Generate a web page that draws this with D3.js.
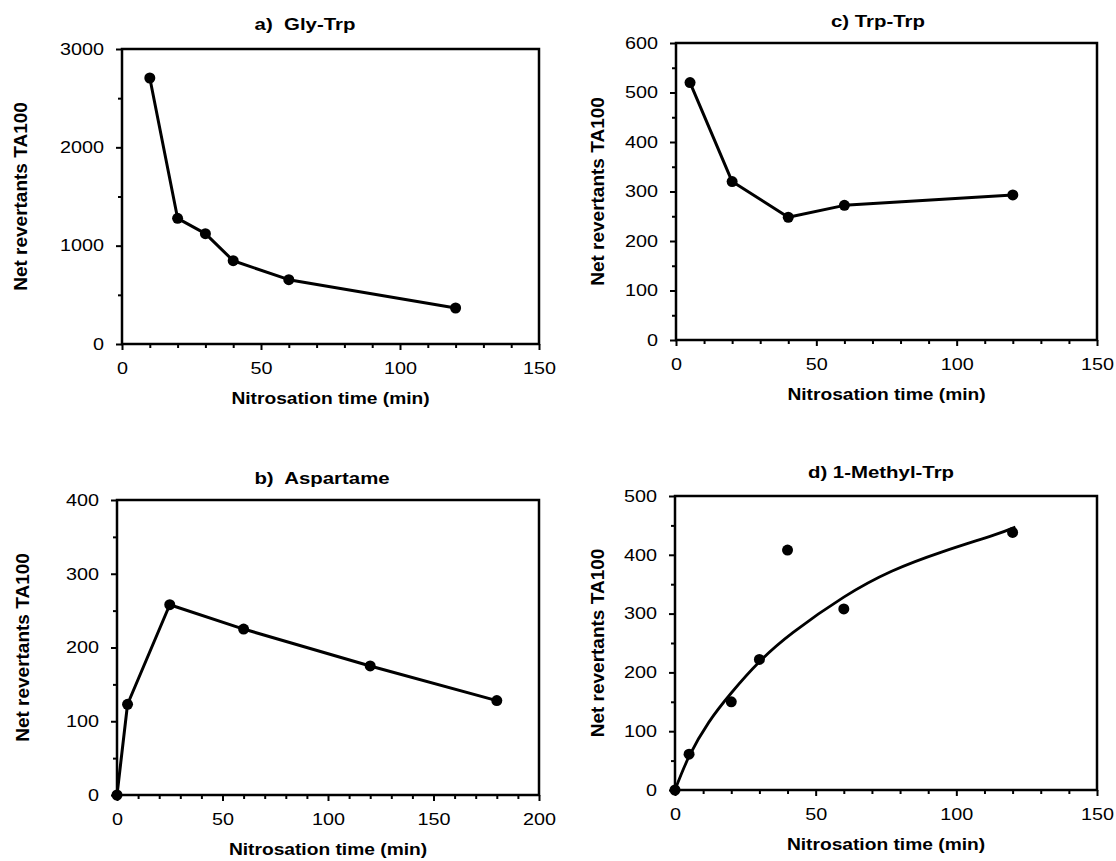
<!DOCTYPE html>
<html>
<head>
<meta charset="utf-8">
<script src="https://cdnjs.cloudflare.com/ajax/libs/d3/7.8.5/d3.min.js"></script>
<style>
body { margin: 0; background: #fff; }
text { font-family: "Liberation Sans", Arial, Helvetica, sans-serif; fill: #000; }
</style>
</head>
<body>
<svg id="chart" width="1116" height="861"></svg>
<script>
// a) Gly-Trp
var glyTrpTime = [10, 20, 30, 40, 60, 120];
var glyTrpRev = [2705, 1278, 1122, 847, 654, 366];

// b) Aspartame
var aspTime = [0, 5, 25, 60, 120, 180];
var aspRev = [0, 123, 258, 225, 175, 128];

// c) Trp-Trp
var trpTime = [5, 20, 40, 60, 120];
var trpRev = [520, 320, 248, 272, 293];

// d) 1-Methyl-Trp, points and the fitted curve
var metTime = [0, 5, 20, 30, 40, 60, 120];
var metRev = [0, 61, 150, 222, 408, 308, 438];
var metFitTime = [0, 5, 12, 20, 30, 42, 60, 77, 95, 113, 121];
var metFitRev = [0, 57, 115, 165, 218, 268, 328, 372, 405, 433, 447];

var xLabel = "Nitrosation time (min)";
var yLabel = "Net revertants TA100";

var SX = 1.2; // the scan is a little wider than tall

var panels = [
	{title: "a)  Gly-Trp", time: glyTrpTime, rev: glyTrpRev, xMax: 150, yMax: 3000, yMajor: 1000, yMinor: 500,
	 box: [122, 49, 539, 344], titleX: 305, titleY: 30, labelX: 20},
	{title: "c) Trp-Trp", time: trpTime, rev: trpRev, xMax: 150, yMax: 600, yMajor: 100, yMinor: 50,
	 box: [676, 43, 1097, 340], titleX: 878, titleY: 27, labelX: 597},
	{title: "b)  Aspartame", time: aspTime, rev: aspRev, xMax: 200, yMax: 400, yMajor: 100, yMinor: 50,
	 box: [117, 500, 539, 795], titleX: 322, titleY: 484, labelX: 22},
	{title: "d) 1-Methyl-Trp", time: metTime, rev: metRev, xMax: 150, yMax: 500, yMajor: 100, yMinor: 50,
	 box: [675, 496, 1097, 790], titleX: 881, titleY: 478, labelX: 597,
	 fitTime: metFitTime, fitRev: metFitRev}
];

var svg = d3.select("#chart");
svg.append("rect").attr("width", 1116).attr("height", 861).attr("fill", "#fff");

panels.forEach(drawPanel);

function drawPanel(p) {
	var x0 = p.box[0], y0 = p.box[1], x1 = p.box[2], y1 = p.box[3];
	var x = d3.scaleLinear().domain([0, p.xMax]).range([x0, x1]);
	var y = d3.scaleLinear().domain([0, p.yMax]).range([y1, y0]);
	var g = svg.append("g");

	var xMajor = d3.range(0, p.xMax + 1, 50);
	var xMinor = d3.range(0, p.xMax + 1, 10).filter(function(v) { return v % 50 != 0; });
	var yMajor = d3.range(0, p.yMax + 1, p.yMajor);
	var yMinor = d3.range(0, p.yMax + 1, p.yMinor).filter(function(v) { return v % p.yMajor != 0; });

	// minor ticks
	g.append("g").attr("transform", "translate(0," + y1 + ")")
		.call(d3.axisBottom(x).tickValues(xMinor).tickSize(4).tickFormat(""))
		.call(cleanAxis);
	g.append("g").attr("transform", "translate(" + x0 + ",0)")
		.call(d3.axisLeft(y).tickValues(yMinor).tickSize(4).tickFormat(""))
		.call(cleanAxis);

	// major ticks with labels
	var xa = g.append("g").attr("transform", "translate(0," + y1 + ")")
		.call(d3.axisBottom(x).tickValues(xMajor).tickSize(6).tickPadding(12).tickFormat(d3.format("d")))
		.call(cleanAxis);
	xa.selectAll("text").attr("transform", "scale(" + SX + ",1)");

	var ya = g.append("g").attr("transform", "translate(" + x0 + ",0)")
		.call(d3.axisLeft(y).tickValues(yMajor).tickSize(6).tickPadding(9).tickFormat(d3.format("d")))
		.call(cleanAxis);
	ya.selectAll("text").attr("transform", "scale(" + SX + ",1)");

	// frame
	g.append("rect")
		.attr("x", x0).attr("y", y0)
		.attr("width", x1 - x0).attr("height", y1 - y0)
		.attr("fill", "none").attr("stroke", "#000").attr("stroke-width", 2.5);

	var pts = p.time.map(function(t, i) { return [t, p.rev[i]]; });
	var line = d3.line().x(function(d) { return x(d[0]); }).y(function(d) { return y(d[1]); });

	if (p.fitTime) {
		var fit = p.fitTime.map(function(t, i) { return [t, p.fitRev[i]]; });
		g.append("path").datum(fit)
			.attr("d", line.curve(d3.curveNatural))
			.attr("fill", "none").attr("stroke", "#000").attr("stroke-width", 2.8);
	} else {
		g.append("path").datum(pts)
			.attr("d", line)
			.attr("fill", "none").attr("stroke", "#000").attr("stroke-width", 3)
			.attr("stroke-linejoin", "round");
	}

	g.selectAll("circle.pt").data(pts).join("circle")
		.attr("class", "pt")
		.attr("cx", function(d) { return x(d[0]); })
		.attr("cy", function(d) { return y(d[1]); })
		.attr("r", 5.5)
		.attr("fill", "#000");

	// titles
	g.append("text")
		.attr("transform", "translate(" + p.titleX + "," + p.titleY + ") scale(" + SX + ",1)")
		.attr("text-anchor", "middle")
		.style("white-space", "pre")
		.style("font-size", "17px").style("font-weight", "bold")
		.text(p.title);

	g.append("text")
		.attr("transform", "translate(" + ((x0 + x1) / 2) + "," + (y1 + 60) + ") scale(" + SX + ",1)")
		.attr("text-anchor", "middle")
		.style("font-size", "16px").style("font-weight", "bold")
		.text(xLabel);

	g.append("text")
		.attr("transform", "translate(" + (p.labelX + 7) + "," + ((y0 + y1) / 2) + ") rotate(-90)")
		.attr("text-anchor", "middle")
		.style("font-size", "19px").style("font-weight", "bold")
		.text(yLabel);
}

function cleanAxis(sel) {
	sel.select(".domain").remove();
	sel.selectAll("line").attr("stroke", "#000").attr("stroke-width", 2);
	sel.selectAll("text").style("font-size", "16.5px").attr("fill", "#000");
}
</script>
</body>
</html>
